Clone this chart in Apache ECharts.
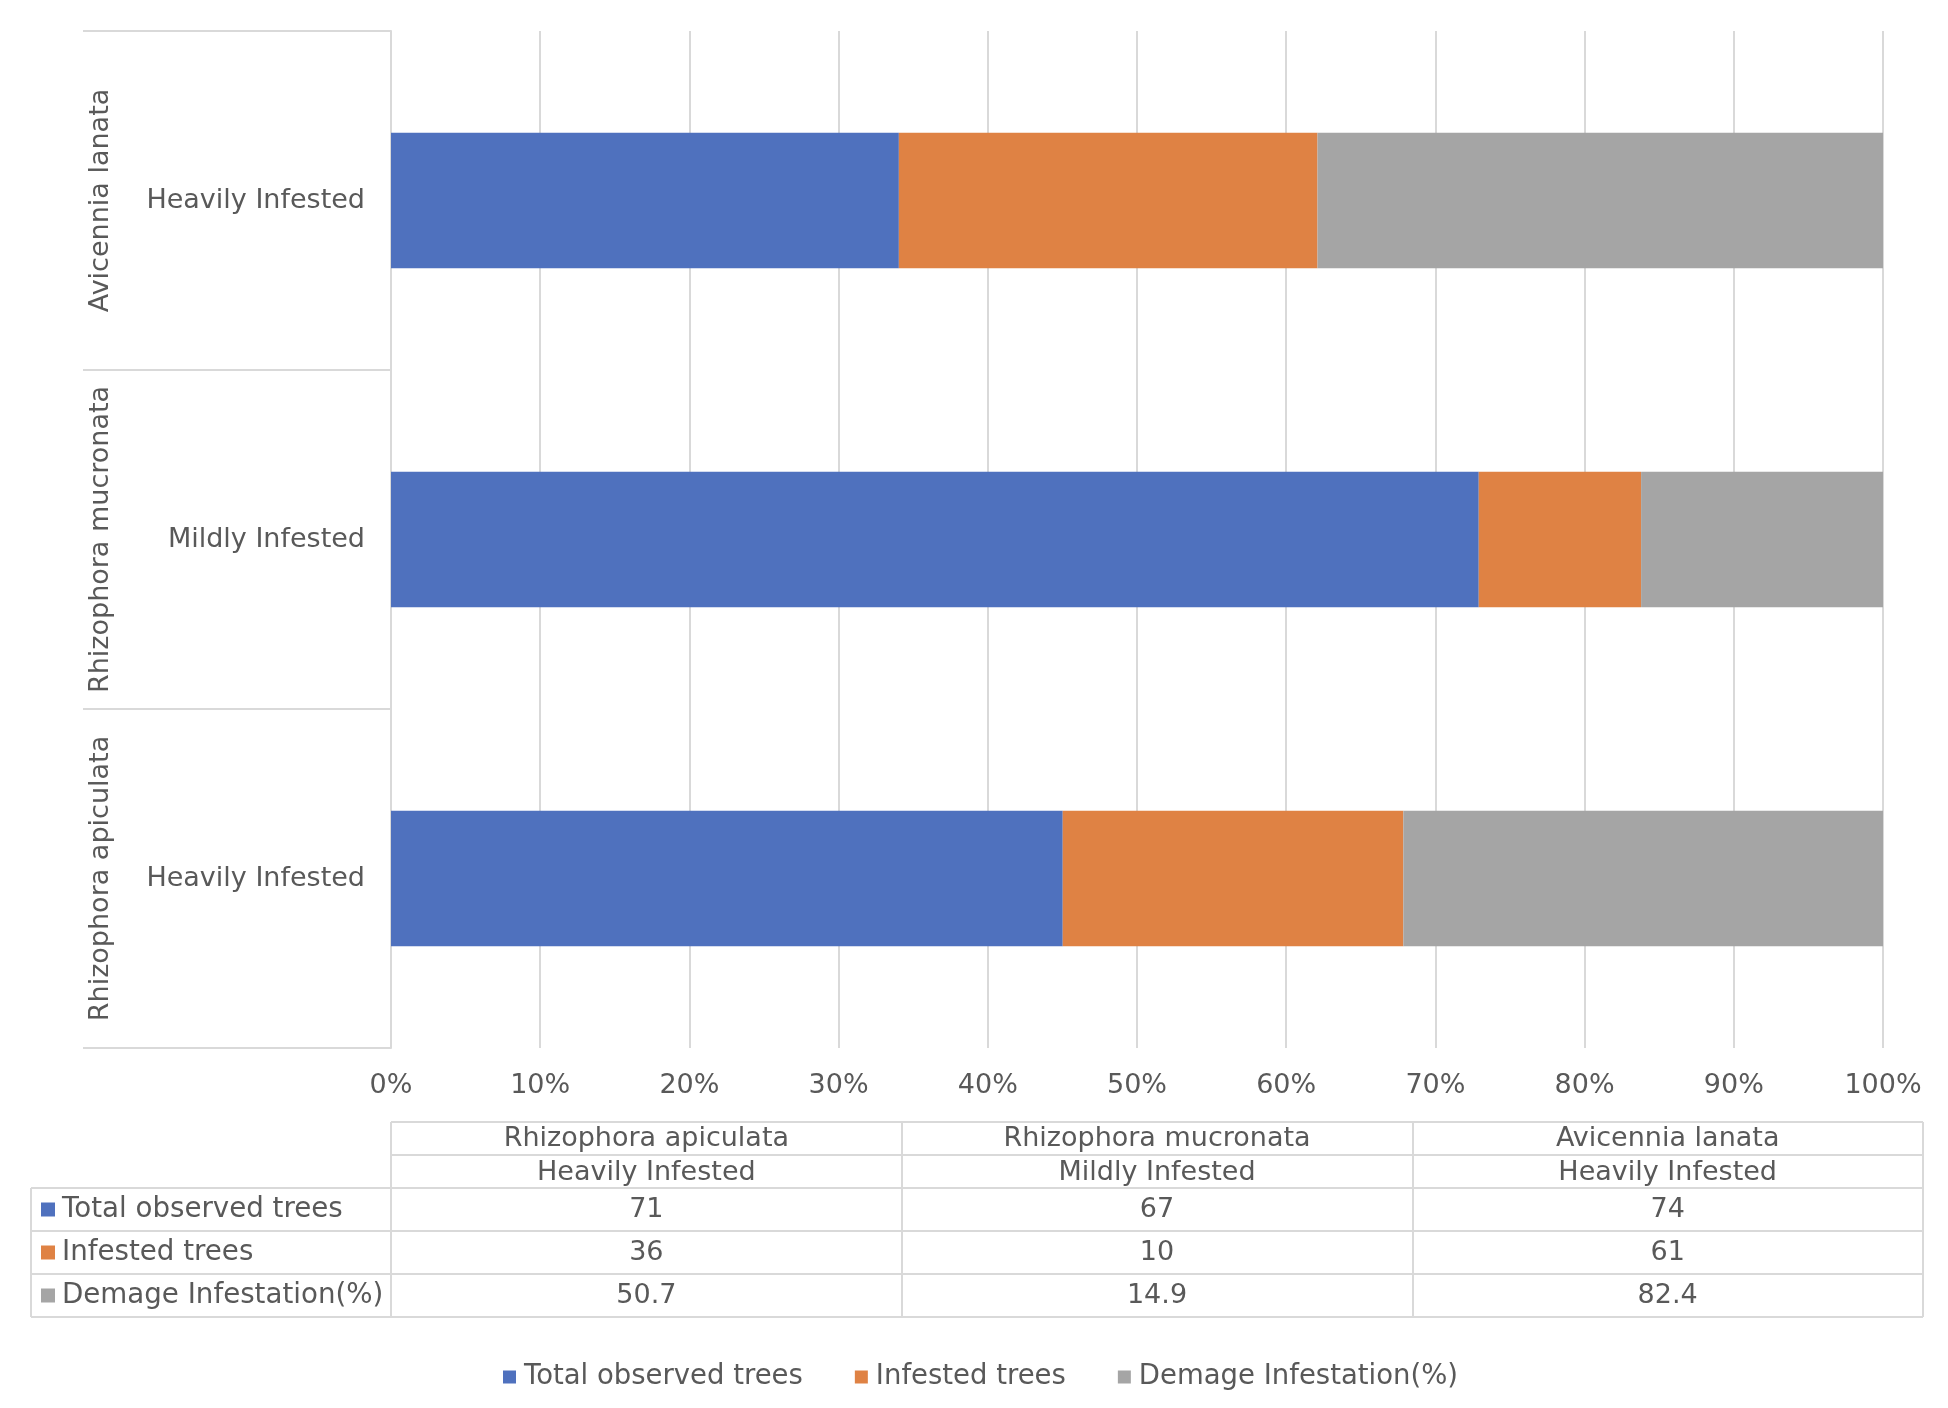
<!DOCTYPE html>
<html>
<head>
<meta charset="utf-8">
<script src="https://cdn.jsdelivr.net/npm/echarts@6/dist/echarts.min.js"></script>
<style>html,body{margin:0;padding:0;background:#fff}#c{width:1948px;height:1408px}</style>
</head>
<body>
<div id="c"></div>
<script>
// ---- data ----
const species = ['Rhizophora apiculata', 'Rhizophora mucronata', 'Avicennia lanata'];
const infestation = ['Heavily Infested', 'Mildly Infested', 'Heavily Infested'];
const seriesNames = ['Total observed trees', 'Infested trees', 'Demage Infestation(%)'];
const totalObserved = [71, 67, 74];
const infestedTrees = [36, 10, 61];
const damagePct = [50.7, 14.9, 82.4];
const percentTicks = { min: 0, max: 100, step: 10 };

// ---- style ----
const colors = ['#4F71BE', '#DF8244', '#A5A5A5'];
const txt = '#595959';
const lineC = '#d9d9d9';
const FONT = 'DejaVu Sans';
const FS = 27;

const values = [totalObserved, infestedTrees, damagePct];
const sums = species.map((_, i) => values.reduce((a, arr) => a + arr[i], 0));
const pct = values.map(arr => arr.map((v, i) => v / sums[i] * 100));

const bars = seriesNames.map((n, k) => ({
  name: n, type: 'bar', stack: 'total', xAxisIndex: 0, yAxisIndex: 0,
  barCategoryGap: '60%', itemStyle: { color: colors[k] }, data: pct[k]
}));

const tableData = [];
values.forEach((arr, r) => arr.forEach((v, c) => tableData.push([c, r, v])));

const rich = { t: { fontFamily: FONT, fontSize: 27.7, color: txt, padding: [0, 0, 0, 7] } };
colors.forEach((c, i) => { rich['s' + i] = { width: 14, height: 14, backgroundColor: c }; });

const hiddenVal = { type: 'value', show: false, min: 0, max: 1 };
const labelBase = { fontFamily: FONT, fontSize: FS, color: txt };

const option = {
  animation: false,
  backgroundColor: '#fff',
  grid: [
    { left: 391, top: 31, width: 1492, height: 1017, outerBoundsMode: 'none' },   // 0 main plot
    { left: 83, top: 31, width: 308, height: 1017, outerBoundsMode: 'none' },     // 1 species label area
    { left: 391, top: 1122, width: 1532, height: 66, outerBoundsMode: 'none' },   // 2 table header
    { left: 391, top: 1188, width: 1532, height: 129, outerBoundsMode: 'none' },  // 3 table values
    { left: 31, top: 1188, width: 360, height: 129, outerBoundsMode: 'none' }     // 4 table row names
  ],
  xAxis: [
    { gridIndex: 0, type: 'value', min: percentTicks.min, max: percentTicks.max, interval: percentTicks.step,
      axisLine: { show: false }, axisTick: { show: false },
      splitLine: { show: true, lineStyle: { color: lineC, width: 2 } },
      axisLabel: Object.assign({ formatter: '{value}%', margin: 24 }, labelBase) },
    Object.assign({ gridIndex: 1 }, hiddenVal),
    { gridIndex: 2, type: 'category', position: 'top', data: species, boundaryGap: true,
      axisLine: { show: false }, axisTick: { show: false },
      splitLine: { show: true, lineStyle: { color: lineC, width: 2 } },
      axisLabel: Object.assign({ inside: true, margin: 3, interval: 0 }, labelBase) },
    { gridIndex: 2, type: 'category', position: 'bottom', data: species, boundaryGap: true,
      axisLine: { show: false }, axisTick: { show: false }, splitLine: { show: false },
      axisLabel: Object.assign({ inside: true, margin: 2, interval: 0, formatter: (v, i) => infestation[i] }, labelBase) },
    { gridIndex: 3, type: 'category', data: species, boundaryGap: true,
      axisLine: { show: false }, axisTick: { show: false }, axisLabel: { show: false },
      splitLine: { show: true, lineStyle: { color: lineC, width: 2 } } },
    { gridIndex: 4, type: 'category', data: [''], boundaryGap: true,
      axisLine: { show: false }, axisTick: { show: false }, axisLabel: { show: false },
      splitLine: { show: true, lineStyle: { color: lineC, width: 2 } } }
  ],
  yAxis: [
    { gridIndex: 0, type: 'category', data: species, boundaryGap: true,
      axisLine: { show: true, lineStyle: { color: lineC, width: 2 } }, axisTick: { show: false },
      splitLine: { show: false },
      axisLabel: Object.assign({ margin: 26, interval: 0, formatter: (v, i) => infestation[i] }, labelBase) },
    { gridIndex: 1, type: 'category', data: species, boundaryGap: true,
      axisLine: { show: false }, axisTick: { show: false },
      splitLine: { show: true, lineStyle: { color: lineC, width: 2 } },
      axisLabel: Object.assign({ inside: true, rotate: 90, margin: 4, interval: 0 }, labelBase) },
    { gridIndex: 2, type: 'category', data: ['a', 'b'], boundaryGap: true,
      axisLine: { show: false }, axisTick: { show: false }, axisLabel: { show: false },
      splitLine: { show: true, lineStyle: { color: lineC, width: 2 } } },
    { gridIndex: 3, type: 'category', data: seriesNames, inverse: true, boundaryGap: true,
      axisLine: { show: false }, axisTick: { show: false }, axisLabel: { show: false },
      splitLine: { show: true, lineStyle: { color: lineC, width: 2 } } },
    { gridIndex: 4, type: 'category', data: seriesNames, inverse: true, boundaryGap: true,
      axisLine: { show: false }, axisTick: { show: false },
      splitLine: { show: true, lineStyle: { color: lineC, width: 2 } },
      axisLabel: { inside: true, margin: 10, interval: 0, rich: rich,
        formatter: (v, i) => '{s' + i + '|}{t|' + v + '}' } }
  ],
  legend: {
    data: seriesNames, left: 498, top: 1358, icon: 'rect', itemWidth: 13, itemHeight: 13, itemGap: 52,
    textStyle: { fontFamily: FONT, fontSize: 27.5, color: txt, padding: [0, 0, 0, 3] }
  },
  series: bars.concat([{
    name: 'table', type: 'scatter', xAxisIndex: 4, yAxisIndex: 3, symbolSize: 1,
    itemStyle: { color: 'rgba(0,0,0,0)' },
    data: tableData, silent: true,
    label: { show: true, position: 'inside', fontFamily: FONT, fontSize: FS, color: txt,
      textBorderWidth: 0, opacity: 1,
      formatter: p => String(p.value[2]) }
  }])
};

const chart = echarts.init(document.getElementById('c'), null, { renderer: 'canvas' });
chart.setOption(option);
</script>
</body>
</html>
